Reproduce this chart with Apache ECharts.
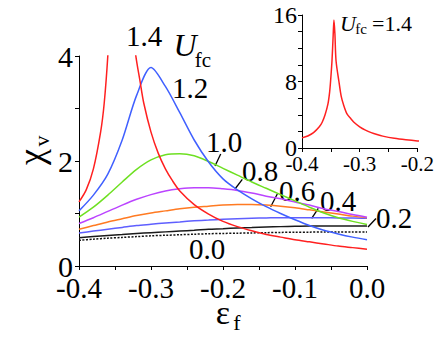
<!DOCTYPE html>
<html>
<head>
<meta charset="utf-8">
<script src="https://cdn.jsdelivr.net/npm/echarts@6/dist/echarts.min.js"></script>
<style>
html, body { margin: 0; padding: 0; background: #fff; }
#chart { width: 437px; height: 339px; }
</style>
</head>
<body>
<div id="chart"></div>
<script>
// x grid shared by most curves
var eps = [-0.40, -0.38, -0.36, -0.34, -0.32, -0.30, -0.28, -0.26, -0.24, -0.22, -0.20,
           -0.18, -0.16, -0.14, -0.12, -0.10, -0.08, -0.06, -0.04, -0.02, 0.00];
var chi00 = [0.49, 0.51, 0.53, 0.545, 0.56, 0.575, 0.585, 0.595, 0.605, 0.615, 0.62,
             0.625, 0.63, 0.635, 0.64, 0.645, 0.645, 0.65, 0.65, 0.65, 0.65];
var chi02 = [0.54, 0.56, 0.58, 0.60, 0.62, 0.635, 0.65, 0.665, 0.68, 0.70, 0.71,
             0.725, 0.735, 0.745, 0.75, 0.755, 0.76, 0.76, 0.76, 0.76, 0.76];
var chi04 = [0.63, 0.665, 0.70, 0.735, 0.77, 0.795, 0.82, 0.84, 0.86, 0.875, 0.89,
             0.90, 0.91, 0.915, 0.92, 0.92, 0.92, 0.92, 0.915, 0.915, 0.91];
var chi06 = [0.70, 0.77, 0.84, 0.90, 0.96, 1.01, 1.05, 1.09, 1.12, 1.14, 1.16,
             1.17, 1.17, 1.16, 1.14, 1.11, 1.07, 1.03, 0.99, 0.95, 0.92];
var chi08 = [0.81, 0.92, 1.04, 1.16, 1.27, 1.36, 1.43, 1.47, 1.49, 1.49, 1.47,
             1.44, 1.39, 1.33, 1.28, 1.22, 1.16, 1.09, 1.04, 0.98, 0.93];
var chi10 = [0.93, 1.12, 1.35, 1.60, 1.84, 2.02, 2.12, 2.14, 2.10, 1.99, 1.86,
             1.73, 1.60, 1.48, 1.36, 1.24, 1.12, 1.01, 0.92, 0.85, 0.79];
var chi12 = [1.05, 1.35, 1.75, 2.40, 3.25, 3.78, 3.42, 2.92, 2.40, 1.98, 1.66,
             1.45, 1.28, 1.13, 1.00, 0.88, 0.77, 0.68, 0.61, 0.55, 0.50];
// U=1.4 has a sharp peak, own x points
var epsRed = [-0.400, -0.390, -0.380, -0.370, -0.365, -0.360, -0.355, -0.352, -0.3505, -0.348,
              -0.346, -0.3446, -0.343, -0.341, -0.336, -0.332, -0.328, -0.322, -0.315, -0.310,
              -0.300, -0.290, -0.280, -0.270, -0.260, -0.240, -0.220, -0.200, -0.180, -0.160,
              -0.140, -0.120, -0.100, -0.080, -0.060, -0.040, -0.020, 0.000];
var chi14 = [1.22, 1.45, 1.85, 2.55, 3.1, 4.0, 5.3, 6.8, 8.0, 10.5,
             13.5, 15.4, 13.8, 10.5, 8.0, 6.2, 5.2, 4.1, 3.5, 3.1,
             2.55, 2.15, 1.85, 1.62, 1.43, 1.17, 0.99, 0.85, 0.75, 0.67,
             0.60, 0.55, 0.50, 0.46, 0.42, 0.38, 0.35, 0.32];

var curveColors = ['#111111', '#1a1a1a', '#5f5fff', '#ff7a22', '#bb44ff', '#6ee022', '#4060ff', '#ff2020'];

var fam = 'Liberation Serif';

function pairs(xs, ys) {
  var out = [];
  for (var i = 0; i < xs.length; i++) out.push([xs[i], ys[i]]);
  return out;
}

function xLabel(v) {
  var t = Math.round(v * 100);
  return t % 10 === 0 ? (t / 100).toFixed(1) : '';
}

function curve(data, color, grid, dashed) {
  return {
    type: 'line',
    xAxisIndex: grid,
    yAxisIndex: grid,
    data: data,
    showSymbol: false,
    smooth: 0.3,
    lineStyle: { color: color, width: 1.5, type: dashed ? [2, 1.5] : 'solid' },
    silent: true
  };
}

// each axis gets its own objects
function axis(gridIndex, min, max, interval, labelSize, labelMargin, formatter) {
  return {
    type: 'value', gridIndex: gridIndex, min: min, max: max, interval: interval,
    axisLine: { show: true, onZero: false, lineStyle: { color: '#000', width: 1 } },
    axisTick: { show: true, inside: false, length: 4, lineStyle: { color: '#000' } },
    splitLine: { show: false },
    axisLabel: { formatter: formatter, color: '#000', fontFamily: fam, fontSize: labelSize, margin: labelMargin }
  };
}

function leader(x1, y1, x2, y2) {
  return { type: 'line', shape: { x1: x1, y1: y1, x2: x2, y2: y2 }, style: { stroke: '#000', lineWidth: 1.3 } };
}
function txt(s, x, y, size, italic, rot) {
  var st = { text: s, fill: '#000', fontSize: size, fontFamily: fam, align: 'center', verticalAlign: 'middle' };
  if (italic) st.fontStyle = 'italic';
  var el = { type: 'text', x: x, y: y, style: st };
  if (rot) el.rotation = rot;
  return el;
}

var option = {
  animation: false,
  textStyle: { fontFamily: fam },
  grid: [
    { left: 79, top: 56, width: 288, height: 210 },
    { left: 302, top: 15, width: 121, height: 133 }
  ],
  xAxis: [
    axis(0, -0.4, 0, 0.05, 29, 7, xLabel),
    axis(1, -0.4, -0.2, 0.05, 21, 5, xLabel)
  ],
  yAxis: [
    axis(0, 0, 4, 1, 30, 6, function (v) { return v % 2 === 0 ? String(v) : ''; }),
    axis(1, 0, 16, 2, 24, 5, function (v) { return v % 8 === 0 ? String(v) : ''; })
  ],
  series: [
    curve(pairs(eps, chi00), curveColors[0], 0, true),
    curve(pairs(eps, chi02), curveColors[1], 0),
    curve(pairs(eps, chi04), curveColors[2], 0),
    curve(pairs(eps, chi06), curveColors[3], 0),
    curve(pairs(eps, chi08), curveColors[4], 0),
    curve(pairs(eps, chi10), curveColors[5], 0),
    curve(pairs(eps, chi12), curveColors[6], 0),
    curve(pairs(epsRed, chi14), curveColors[7], 0),
    curve(pairs(epsRed, chi14), curveColors[7], 1)
  ],
  graphic: [
    // axis names
    txt('χ', 31, 157, 36, false, Math.PI / 2),
    txt('v', 41, 141, 22, false, Math.PI / 2),
    txt('ε', 223, 312, 34),
    txt('f', 237, 322, 22),
    // U_fc legend title
    txt('U', 185, 45, 32, true),
    txt('fc', 203, 60, 21),
    // curve labels
    txt('1.4', 144, 36, 29),
    txt('1.2', 190, 88, 29),
    txt('1.0', 224, 142, 29),
    txt('0.8', 260, 171, 29),
    txt('0.6', 297, 191, 29),
    txt('0.4', 338, 201, 29),
    txt('0.2', 394, 218, 29),
    txt('0.0', 207, 249, 29),
    leader(215, 166, 220.7, 154),
    leader(235, 189, 242.3, 179.3),
    leader(270.7, 206.7, 277.3, 194),
    leader(311.7, 218.3, 318.3, 208.3),
    leader(368, 227, 376, 218.5),
    // inset title
    txt('U', 348, 23, 22, true),
    txt('fc', 361, 29, 15),
    txt('=1.4', 392, 23, 22)
  ]
};

var chartInstance = echarts.init(document.getElementById('chart'), null, { renderer: 'svg' });
chartInstance.setOption(option);
</script>
</body>
</html>
